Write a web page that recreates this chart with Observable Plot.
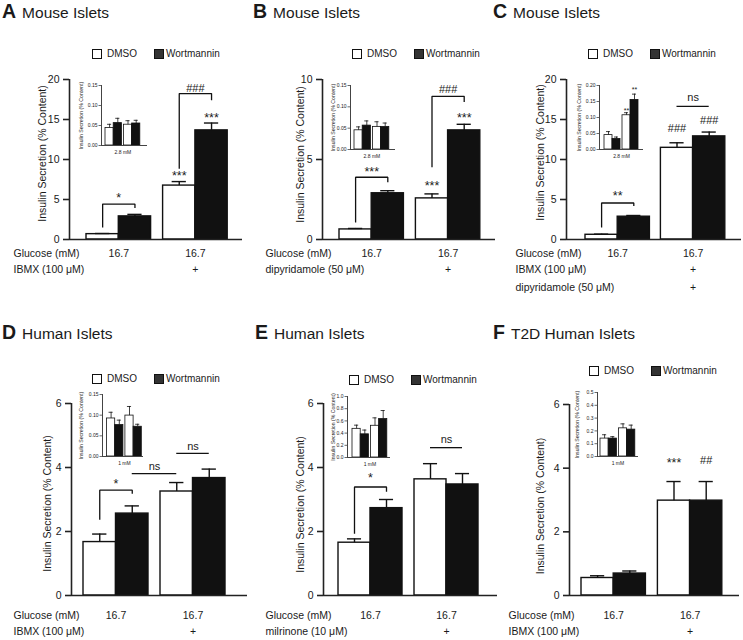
<!DOCTYPE html>
<html><head><meta charset="utf-8">
<script src="https://cdn.jsdelivr.net/npm/d3@7"></script>
<script src="https://cdn.jsdelivr.net/npm/@observablehq/plot@0.6"></script>
<style>
html,body{margin:0;padding:0;background:#fff;}
#fig{position:relative;width:743px;height:640px;overflow:hidden;font-family:"Liberation Sans",Arial,Helvetica,sans-serif;color:#1a1a1a;}
.t{position:absolute;white-space:nowrap;}
.sq{position:absolute;width:9.5px;height:9.5px;box-sizing:border-box;border:1px solid #111;}
</style></head><body><div id="fig"></div>
<script>
const series = ["DMSO", "Wortmannin"];
const letters = ["A", "B", "C", "D", "E", "F"];
const titles = ["Mouse Islets", "Mouse Islets", "Mouse Islets", "Human Islets", "Human Islets", "T2D Human Islets"];
const yLabel = "Insulin Secretion (% Content)";

// Main bars, order: DMSO g1, Wortmannin g1, DMSO g2, Wortmannin g2
const meanA = [0.67, 2.89, 6.74, 13.64];
const semA  = [0.08, 0.25, 0.50, 0.92];
const meanB = [0.63, 2.89, 2.57, 6.82];
const semB  = [0.06, 0.16, 0.28, 0.38];
const meanC = [0.59, 2.85, 11.46, 12.89];
const semC  = [0.08, 0.15, 0.63, 0.54];
const meanD = [1.67, 2.56, 3.25, 3.67];
const semD  = [0.25, 0.24, 0.28, 0.28];
const meanE = [1.65, 2.73, 3.63, 3.47];
const semE  = [0.12, 0.27, 0.49, 0.34];
const meanF = [0.55, 0.69, 2.98, 2.98];
const semF  = [0.07, 0.08, 0.60, 0.60];

// Inset bars (basal glucose)
const insetMeanA = [0.044, 0.056, 0.052, 0.055];
const insetSemA  = [0.009, 0.012, 0.010, 0.008];
const insetMeanB = [0.045, 0.056, 0.053, 0.053];
const insetSemB  = [0.008, 0.011, 0.012, 0.009];
const insetMeanC = [0.045, 0.033, 0.107, 0.155];
const insetSemC  = [0.011, 0.006, 0.008, 0.018];
const insetMeanD = [0.092, 0.076, 0.099, 0.072];
const insetSemD  = [0.015, 0.012, 0.022, 0.006];
const insetMeanE = [0.47, 0.38, 0.52, 0.63];
const insetSemE  = [0.06, 0.07, 0.13, 0.14];
const insetMeanF = [0.14, 0.14, 0.22, 0.21];
const insetSemF  = [0.03, 0.015, 0.035, 0.035];

// Tick values
const ticks20 = [0, 5, 10, 15, 20];
const ticks10 = [0, 5, 10];
const ticks6 = [0, 2, 4, 6];
const insetTicks015 = [0, 0.05, 0.10, 0.15];
const insetTicks020 = [0, 0.05, 0.10, 0.15, 0.20];
const insetTicks10 = [0, 0.2, 0.4, 0.6, 0.8, 1.0];
const insetTicks05 = [0, 0.1, 0.2, 0.3, 0.4, 0.5];
const insetSubLabels = ["2.8 mM", "2.8 mM", "2.8 mM", "1 mM", "1 mM", "1 mM"];

// Condition rows below the axis
const glucoseRow = ["Glucose (mM)", "16.7", "16.7"];
const ibmxRow = ["IBMX (100 μM)", "", "+"];
const dipyRow = ["dipyridamole (50 μM)", "", "+"];
const dipyRowC = ["dipyridamole (50 μM)", "", "+"];
const milrinoneRow = ["milrinone (10 μM)", "", "+"];

// Significance annotations (values in data units)
const bracketsA = [{g: 0, yL: 1.5, yTop: 4.43, yR: 3.93, text: "*", ty: 5.5}, {g: 1, yL: 8.83, yTop: 18.24, yR: 17.4, text: "###", ty: 18.9}];
const barLabelsA = [{bar: 2, y: 8.3, text: "***"}, {bar: 3, y: 15.5, text: "***"}];
const bracketsB = [{g: 0, yL: 1.07, yTop: 3.89, yR: 3.58, text: "***", ty: 4.4}, {g: 1, yL: 4.52, yTop: 8.95, yR: 8.6, text: "###", ty: 9.4}];
const barLabelsB = [{bar: 2, y: 3.47, text: "***"}, {bar: 3, y: 7.76, text: "***"}];
const bracketsC = [{g: 0, yL: 1.5, yTop: 4.56, yR: 4.2, text: "**", ty: 5.7}];
const barLabelsC = [{bar: 2, y: 13.85, text: "###"}, {bar: 3, y: 14.9, text: "###"}];
const nsLinesC = [{b1: 2, b2: 3, y: 16.65, ty: 17.7, text: "ns"}];
const bracketsD = [{g: 0, yL: 2.37, yTop: 3.29, yR: 3.18, text: "*", ty: 3.55}];
const nsLinesD = [{b1: 1, b2: 2, y: 3.81, ty: 4.02, text: "ns"}, {b1: 2, b2: 3, y: 4.44, ty: 4.65, text: "ns"}];
const bracketsE = [{g: 0, yL: 1.93, yTop: 3.39, yR: 3.24, text: "*", ty: 3.74}];
const nsLinesE = [{b1: 2, b2: 3, y: 4.62, ty: 4.88, text: "ns"}];
const barLabelsF = [{bar: 2, y: 4.23, text: "***"}, {bar: 3, y: 4.23, text: "##"}];
const insetLabelsC = [{bar: 2, y: 0.127, text: "**"}, {bar: 3, y: 0.19, text: "**"}];

const FONT = "'Liberation Sans', Arial, Helvetica, sans-serif";
const INK = "#111";
const fig = document.getElementById("fig");

function addDiv(cls, x, y, html, css = "") {
  const d = document.createElement("div");
  d.className = cls;
  d.style.cssText = `left:${x}px;top:${y}px;${css}`;
  d.innerHTML = html;
  fig.appendChild(d);
  return d;
}
function title(letter, text, x, baseline) {
  addDiv("t", x, baseline - 17.3, `<b style="font-size:19.5px">${letter}</b><span style="font-size:15.5px;margin-left:6px">${text}</span>`, "line-height:22px;font-size:19.5px;");
}
function legend(x, yc) {
  addDiv("sq", x, yc - 4.75, "", "background:#fff;");
  addDiv("t", x + 15, yc - 6.3, series[0], "font-size:10px;line-height:12px;");
  addDiv("sq", x + 62, yc - 4.75, "", "background:#333;");
  addDiv("t", x + 74, yc - 6.3, series[1], "font-size:10px;line-height:12px;");
}
function place(svg, left, top) {
  svg.style.position = "absolute";
  svg.style.left = left + "px";
  svg.style.top = top + "px";
  fig.appendChild(svg);
}
function makeBars(mean, sem, L) {
  const start = g => L.firstOff / L.barW + g * (2 + L.gap / L.barW);
  return mean.map((m, i) => {
    const g = Math.floor(i / 2), s = i % 2;
    const x1 = start(g) + s;
    return {g, series: series[s], x1, x2: x1 + 1, xc: x1 + 0.5, mean: m, top: m + sem[i]};
  });
}
const isStar = d => d.text.includes("*");

function mainChart(mean, sem, ticks, rows, ann, L) {
  const top = L.top, left = L.left;
  const marginRight = 4;
  const width = L.axisEnd + marginRight - left;
  const height = L.bottom - top;
  const marginLeft = L.axisX - left;
  const marginTop = L.yMaxPx - top;
  const marginBottom = L.bottom - L.yZeroPx;
  const totalUnits = (L.axisEnd - L.axisX) / L.barW;
  const bars = makeBars(mean, sem, L);
  const groups = [0, 1].map(g => ({g, xc: (bars[2 * g].x1 + bars[2 * g + 1].x2) / 2}));
  const brackets = ann.brackets || [], barLabels = ann.barLabels || [], nsLines = ann.nsLines || [];
  const bracketPts = brackets.flatMap((b, k) => {
    const xl = bars[2 * b.g].xc, xr = bars[2 * b.g + 1].xc;
    return [{k, x: xl, y: b.yL}, {k, x: xl, y: b.yTop}, {k, x: xr, y: b.yTop}, {k, x: xr, y: b.yR}];
  });
  const texts = [
    ...brackets.map(b => ({x: (bars[2 * b.g].xc + bars[2 * b.g + 1].xc) / 2, y: b.ty, text: b.text})),
    ...barLabels.map(b => ({x: bars[b.bar].xc, y: b.y, text: b.text})),
    ...nsLines.map(n => ({x: (bars[n.b1].xc + bars[n.b2].xc) / 2, y: n.ty, text: n.text}))
  ];
  const ns = nsLines.map(n => ({x1: bars[n.b1].xc, x2: bars[n.b2].xc, y: n.y}));
  const cap = 0.22;
  const marks = [
    Plot.rect(bars.filter(d => d.series === series[0]), {x1: "x1", x2: "x2", y1: 0, y2: "mean", fill: "#fff", stroke: INK, strokeWidth: 1.4}),
    Plot.rect(bars.filter(d => d.series === series[1]), {x1: "x1", x2: "x2", y1: 0, y2: "mean", fill: INK, stroke: INK, strokeWidth: 1.4}),
    Plot.ruleX(bars, {x: "xc", y1: "mean", y2: "top", stroke: INK, strokeWidth: 1.4}),
    Plot.ruleY(bars, {y: "top", x1: d => d.xc - cap, x2: d => d.xc + cap, stroke: INK, strokeWidth: 1.4}),
    Plot.ruleY([0], {stroke: "#222", strokeWidth: 1.6}),
    Plot.ruleX([0], {y1: 0, y2: L.yMax, stroke: "#222", strokeWidth: 1.6}),
    Plot.axisY(ticks, {tickSize: 6, tickPadding: 4, fontSize: 10.5, tickFormat: d => String(d), label: null, stroke: "#222", strokeWidth: 1.6}),
    Plot.line(bracketPts, {x: "x", y: "y", z: "k", stroke: INK, strokeWidth: 1.3, strokeLinejoin: "miter", strokeLinecap: "butt"}),
    Plot.ruleY(ns, {y: "y", x1: "x1", x2: "x2", stroke: INK, strokeWidth: 1.3}),
    Plot.text(texts.filter(isStar), {x: "x", y: "y", text: "text", fontSize: 12.5, dy: 2.5}),
    Plot.text(texts.filter(d => !isStar(d)), {x: "x", y: "y", text: "text", fontSize: 11}),
    Plot.text([yLabel], {text: d => d, frameAnchor: "left", textAnchor: "middle", rotate: -90, dx: -(L.axisX - L.labelX), dy: L.labelDy, fontSize: 10.5}),
    ...rows.flatMap((r, i) => [
      Plot.text([r[0]], {text: d => d, frameAnchor: "bottom-left", textAnchor: "start", dx: L.rowX - L.axisX, dy: L.rowY[i] - L.yZeroPx, fontSize: 10.5}),
      Plot.text(groups, {x: "xc", text: d => r[1 + d.g], frameAnchor: "bottom", dy: L.rowY[i] - L.yZeroPx, fontSize: 10.5})
    ])
  ];
  const svg = Plot.plot({
    width, height, marginLeft, marginRight, marginTop, marginBottom,
    x: {domain: [0, totalUnits], axis: null},
    y: {domain: [0, L.yMax], axis: null},
    style: {background: "transparent", overflow: "visible", fontFamily: FONT, fontSize: "10px", color: "#1a1a1a"},
    marks
  });
  place(svg, left, top);
}

function insetChart(mean, sem, ticks, fmt, subLabel, labels, I) {
  const left = I.axisX - 28, top = I.yTopPx - 6;
  const marginRight = 2;
  const width = I.right + marginRight - left;
  const height = I.yZeroPx + 14 - top;
  const marginLeft = I.axisX - left, marginTop = I.yTopPx - top, marginBottom = top + height - I.yZeroPx;
  const totalUnits = (I.right - I.axisX) / I.barW;
  const bars = makeBars(mean, sem, I);
  const mid = (bars[0].x1 + bars[3].x2) / 2;
  const texts = labels.map(b => ({x: bars[b.bar].xc, y: b.y, text: b.text}));
  const cap = 0.25;
  const marks = [
    Plot.rect(bars.filter(d => d.series === series[0]), {x1: "x1", x2: "x2", y1: 0, y2: "mean", fill: "#fff", stroke: INK, strokeWidth: 0.8}),
    Plot.rect(bars.filter(d => d.series === series[1]), {x1: "x1", x2: "x2", y1: 0, y2: "mean", fill: INK, stroke: INK, strokeWidth: 0.8}),
    Plot.ruleX(bars, {x: "xc", y1: "mean", y2: "top", stroke: INK, strokeWidth: 0.8}),
    Plot.ruleY(bars, {y: "top", x1: d => d.xc - cap, x2: d => d.xc + cap, stroke: INK, strokeWidth: 0.8}),
    Plot.ruleY([0], {stroke: "#444", strokeWidth: 1}),
    Plot.ruleX([0], {y1: 0, y2: I.yMax, stroke: "#444", strokeWidth: 1}),
    Plot.axisY(ticks, {tickSize: 2.5, tickPadding: 1.5, fontSize: 5, tickFormat: fmt, label: null, stroke: "#444", strokeWidth: 0.8}),
    Plot.text([yLabel], {text: d => d, frameAnchor: "left", textAnchor: "middle", rotate: -90, dx: -(I.axisX - I.labelX), fontSize: 5.2}),
    Plot.text([subLabel], {text: d => d, x: () => mid, frameAnchor: "bottom", dy: 8, fontSize: 5}),
    Plot.text(texts, {x: "x", y: "y", text: "text", fontSize: 7, dy: 1.5})
  ];
  const svg = Plot.plot({
    width, height, marginLeft, marginRight, marginTop, marginBottom,
    x: {domain: [0, totalUnits], axis: null},
    y: {domain: [0, I.yMax], axis: null},
    style: {background: "transparent", overflow: "visible", fontFamily: FONT, fontSize: "5px", color: "#1a1a1a"},
    marks
  });
  place(svg, left, top);
}

// Layout (pixel geometry only)
const LA = {left: 0, top: 62, bottom: 300, axisX: 69, axisEnd: 242, yMaxPx: 79, yZeroPx: 239, firstOff: 17, barW: 32.3, gap: 12, yMax: 20, labelX: 42, labelDy: -6, rowX: 13, rowY: [256, 272]};
const LB = {left: 248, top: 62, bottom: 300, axisX: 322, axisEnd: 495, yMaxPx: 79, yZeroPx: 239, firstOff: 17, barW: 32.2, gap: 12, yMax: 10, labelX: 300, labelDy: -5, rowX: 265, rowY: [256, 272]};
const LC = {left: 495, top: 62, bottom: 300, axisX: 566, axisEnd: 741, yMaxPx: 79, yZeroPx: 239, firstOff: 19, barW: 32.2, gap: 11, yMax: 20, labelX: 540, labelDy: -7, rowX: 515, rowY: [256, 272, 290]};
const LD = {left: 0, top: 385, bottom: 640, axisX: 71, axisEnd: 247, yMaxPx: 403, yZeroPx: 595, firstOff: 12, barW: 32.5, gap: 12, yMax: 6, labelX: 47, labelDy: 4, rowX: 13, rowY: [618, 634]};
const LE = {left: 248, top: 385, bottom: 640, axisX: 323, axisEnd: 497, yMaxPx: 403, yZeroPx: 595, firstOff: 15, barW: 32, gap: 12, yMax: 6, labelX: 300, labelDy: 5, rowX: 265, rowY: [618, 634]};
const LF = {left: 495, top: 385, bottom: 640, axisX: 569, axisEnd: 739, yMaxPx: 404, yZeroPx: 595, firstOff: 12, barW: 32.2, gap: 12, yMax: 6, labelX: 540, labelDy: 6, rowX: 508, rowY: [618, 634]};

const IA = {axisX: 101, right: 147, yTopPx: 85, yZeroPx: 145, yMax: 0.15, firstOff: 4, barW: 8.2, gap: 2, labelX: 81};
const IB = {axisX: 350, right: 395, yTopPx: 85, yZeroPx: 149, yMax: 0.15, firstOff: 4, barW: 8.2, gap: 2, labelX: 333};
const IC = {axisX: 599, right: 643, yTopPx: 85, yZeroPx: 149, yMax: 0.20, firstOff: 5, barW: 8, gap: 2, labelX: 579};
const ID = {axisX: 102, right: 143, yTopPx: 394, yZeroPx: 456, yMax: 0.15, firstOff: 4.5, barW: 8.2, gap: 2, labelX: 81};
const IE = {axisX: 347, right: 390, yTopPx: 396, yZeroPx: 457, yMax: 1.0, firstOff: 5, barW: 8.2, gap: 2, labelX: 333};
const IF = {axisX: 597, right: 638, yTopPx: 392, yZeroPx: 456, yMax: 0.5, firstOff: 3, barW: 8.2, gap: 2, labelX: 577};

// Titles & legends
[[2, 17], [253, 17], [493, 17], [2, 338], [255, 338], [493, 338]].forEach(([x, b], i) => title(letters[i], titles[i], x, b));
[[92, 54], [352, 54], [588, 54], [92, 379], [349, 380], [589, 371]].forEach(([x, y]) => legend(x, y));

mainChart(meanA, semA, ticks20, [glucoseRow, ibmxRow], {brackets: bracketsA, barLabels: barLabelsA}, LA);
mainChart(meanB, semB, ticks10, [glucoseRow, dipyRow], {brackets: bracketsB, barLabels: barLabelsB}, LB);
mainChart(meanC, semC, ticks20, [glucoseRow, ibmxRow, dipyRowC], {brackets: bracketsC, barLabels: barLabelsC, nsLines: nsLinesC}, LC);
mainChart(meanD, semD, ticks6, [glucoseRow, ibmxRow], {brackets: bracketsD, nsLines: nsLinesD}, LD);
mainChart(meanE, semE, ticks6, [glucoseRow, milrinoneRow], {brackets: bracketsE, nsLines: nsLinesE}, LE);
mainChart(meanF, semF, ticks6, [glucoseRow, ibmxRow], {barLabels: barLabelsF}, LF);

const f2 = d3.format(".2f"), f1 = d3.format(".1f");
insetChart(insetMeanA, insetSemA, insetTicks015, f2, insetSubLabels[0], [], IA);
insetChart(insetMeanB, insetSemB, insetTicks015, f2, insetSubLabels[1], [], IB);
insetChart(insetMeanC, insetSemC, insetTicks020, f2, insetSubLabels[2], insetLabelsC, IC);
insetChart(insetMeanD, insetSemD, insetTicks015, f2, insetSubLabels[3], [], ID);
insetChart(insetMeanE, insetSemE, insetTicks10, f1, insetSubLabels[4], [], IE);
insetChart(insetMeanF, insetSemF, insetTicks05, f1, insetSubLabels[5], [], IF);
</script></body></html>
